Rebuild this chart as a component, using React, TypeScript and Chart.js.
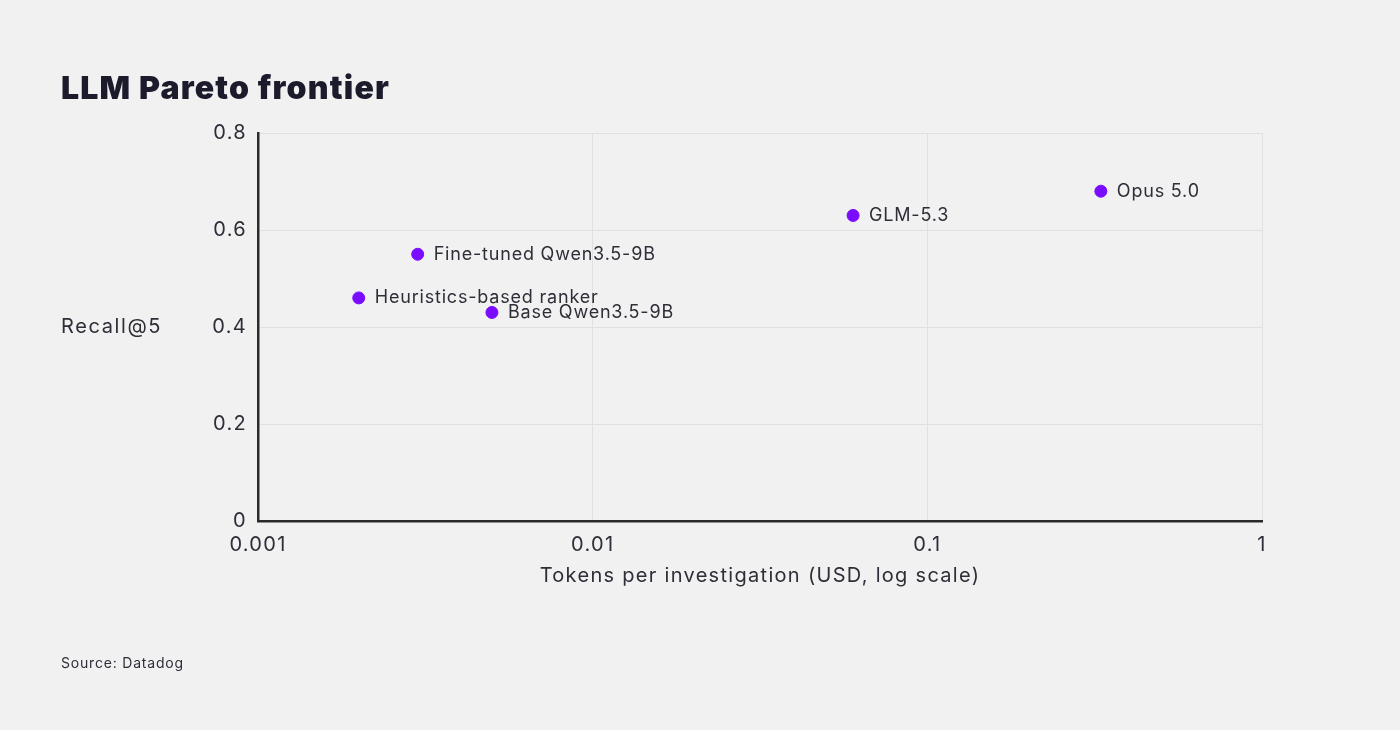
import { useEffect, useRef } from "react"
import { Chart, registerables } from "chart.js"

Chart.register(...registerables)

// data
const models = ["Heuristics-based ranker", "Fine-tuned Qwen3.5-9B", "Base Qwen3.5-9B", "GLM-5.3", "Opus 5.0"]
const costs = [0.002, 0.003, 0.005, 0.06, 0.33]
const recall = [0.46, 0.55, 0.43, 0.63, 0.68]
const xTicks = [0.001, 0.01, 0.1, 1]
const yTicks = [0, 0.2, 0.4, 0.6, 0.8]

const FONT = "Inter, 'Noto Sans', sans-serif"
const INK = "#2e2e38"
const PURPLE = "#7a0cff"

// the reference face is a little wider than Inter, so space the letters out
const spacing = {
  id: "spacing",
  beforeDraw(chart) {
    chart.ctx.letterSpacing = "1.3px"
  },
}

// draws model names to the right of each point
const pointLabels = {
  id: "pointLabels",
  afterDatasetsDraw(chart) {
    const { ctx } = chart
    const meta = chart.getDatasetMeta(0)
    ctx.save()
    ctx.letterSpacing = "0.8px"
    ctx.font = `18px ${FONT}`
    ctx.fillStyle = INK
    ctx.textAlign = "left"
    ctx.textBaseline = "middle"
    meta.data.forEach((el, i) => {
      ctx.fillText(models[i], el.x + 16, el.y)
    })
    ctx.restore()
  },
}

export default function App() {
  const canvasRef = useRef(null)
  const chartRef = useRef(null)

  useEffect(() => {
    if (!canvasRef.current) return
    if (chartRef.current) chartRef.current.destroy()

    chartRef.current = new Chart(canvasRef.current.getContext("2d"), {
      type: "scatter",
      data: {
        datasets: [
          {
            label: "Models",
            data: costs.map((c, i) => ({ x: c, y: recall[i] })),
            backgroundColor: PURPLE,
            borderColor: PURPLE,
            pointRadius: 6,
            pointHoverRadius: 6,
          },
        ],
      },
      options: {
        responsive: false,
        animation: false,
        layout: { padding: { top: 133, right: 138, left: 0, bottom: 0 } },
        plugins: {
          legend: { display: false },
          tooltip: { enabled: false },
        },
        scales: {
          x: {
            type: "logarithmic",
            min: 0.001,
            max: 1,
            afterBuildTicks: (scale) => {
              scale.ticks = xTicks.map((v) => ({ value: v, major: true }))
            },
            afterFit: (scale) => {
              scale.height = 209
            },
            ticks: {
              callback: (v) => String(v),
              font: { family: FONT, size: 20 },
              color: INK,
              padding: 12,
              maxRotation: 0,
              autoSkip: false,
            },
            grid: { color: "#e0e0e0", lineWidth: 1, drawTicks: false },
            border: { color: "#2b2b2b", width: 2.5 },
            title: {
              display: true,
              text: "Tokens per investigation (USD, log scale)",
              font: { family: FONT, size: 20 },
              color: INK,
              padding: { top: 0, bottom: 142 },
            },
          },
          y: {
            min: 0,
            max: 0.8,
            afterBuildTicks: (scale) => {
              scale.ticks = yTicks.map((v) => ({ value: v }))
            },
            afterFit: (scale) => {
              scale.width = 258
            },
            ticks: {
              callback: (v) => String(v),
              font: { family: FONT, size: 20 },
              color: INK,
              padding: 11,
            },
            grid: { color: "#e0e0e0", lineWidth: 1, drawTicks: false },
            border: { color: "#2b2b2b", width: 2.5 },
          },
        },
      },
      plugins: [spacing, pointLabels],
    })

    return () => {
      if (chartRef.current) {
        chartRef.current.destroy()
        chartRef.current = null
      }
    }
  }, [])

  return (
    <div style={{ position: "fixed", left: 0, top: 0, width: 1400, height: 730, background: "#f1f1f1", fontFamily: FONT }}>
      <canvas ref={canvasRef} width={1400} height={730} style={{ position: "absolute", left: 0, top: 0, width: 1400, height: 730 }} />
      <div style={{ position: "absolute", left: 61, top: 68, fontSize: 32, fontWeight: 900, color: "#1c1b2c", letterSpacing: 1.2 }}>
        LLM Pareto frontier
      </div>
      <div style={{ position: "absolute", left: 61, top: 314, fontSize: 20, color: INK, letterSpacing: 1.6 }}>Recall@5</div>
      <div style={{ position: "absolute", left: 61, top: 654, fontSize: 14, color: INK, letterSpacing: 0.8 }}>Source: Datadog</div>
    </div>
  )
}
